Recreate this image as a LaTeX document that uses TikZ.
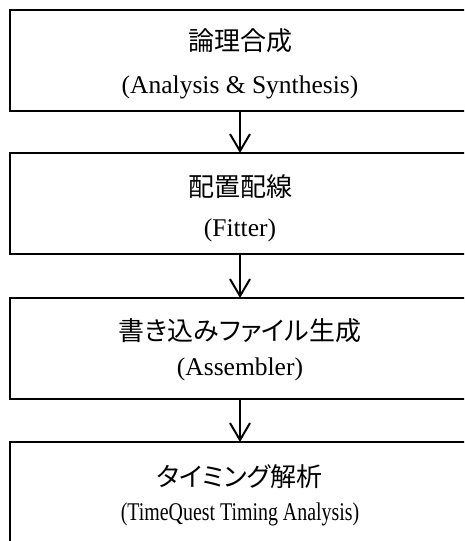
\documentclass[tikz,border=0pt]{standalone}
\usepackage{fontspec}
\usepackage{graphicx}
\setmainfont{Liberation Serif}
\newfontfamily\jp{Noto Sans CJK JP}[RawFeature=+palt]
\usetikzlibrary{arrows.meta}
\tikzset{
  stepbox/.style={draw=black, line width=2.5pt, rectangle, minimum width=460pt, minimum height=101pt, inner sep=0pt, outer sep=0pt},
  jplabel/.style={font=\jp\fontsize{26}{30}\selectfont, inner sep=0pt, anchor=center},
  enlabel/.style={font=\fontsize{25.5}{30}\selectfont, inner sep=0pt, anchor=base},
  flow/.style={line width=2pt, -{Straight Barb[length=17pt,width=20pt,line width=2pt]}}
}
\begin{document}
\begin{tikzpicture}[x=1pt,y=-1pt]
\useasboundingbox (0,0) rectangle (464,541);
\clip (0,0) rectangle (464,541);
\node[stepbox] (b1) at (240,60.5) {};
\node[stepbox] (b2) at (240,203.5) {};
\node[stepbox] (b3) at (240,348.5) {};
\node[stepbox] (b4) at (240,492.5) {};
\node[jplabel] (j1) at (240,41) {論理合成};
\node[enlabel] (e1) at (240,93) {(Analysis \& Synthesis)};
\node[jplabel] (j2) at (240,187) {配置配線};
\node[enlabel] (e2) at (240,236) {(Fitter)};
\node[jplabel] (j3) at (240,331) {書き込みファイル生成};
\node[enlabel] (e3) at (240,375) {(Assembler)};
\node[jplabel] (j4) at (240,477) {タイミング解析};
\node[enlabel] (e4) at (240,520) {\scalebox{0.78}[1]{(TimeQuest Timing Analysis)}};
\draw[flow] (b1.south) -- (b2.north);
\draw[flow] (b2.south) -- (b3.north);
\draw[flow] (b3.south) -- (b4.north);
\end{tikzpicture}
\end{document}
